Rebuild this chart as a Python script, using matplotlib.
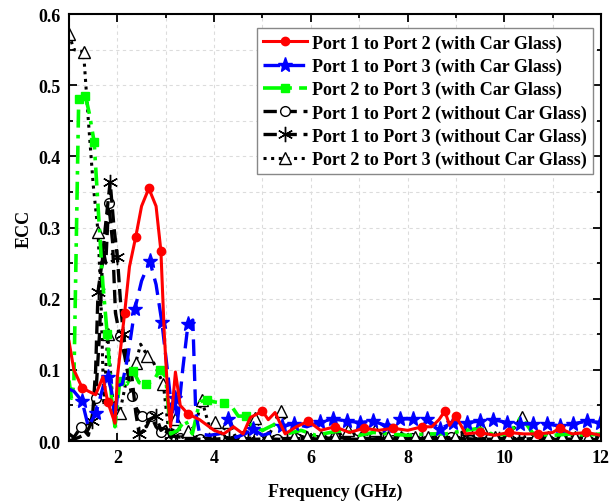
import numpy as np
import matplotlib
matplotlib.use("Agg")
import matplotlib.pyplot as plt
from matplotlib.lines import Line2D
from matplotlib.ticker import MultipleLocator

plt.rcParams['font.family'] = ['Liberation Serif', 'DejaVu Serif']
plt.rcParams['font.weight'] = 'bold'

# Port 1 to Port 2 (with Car Glass)
red_f = [1.0, 1.1, 1.27, 1.4, 1.55, 1.7, 1.8, 1.9, 1.95, 2.0, 2.15, 2.25, 2.38, 2.5, 2.65, 2.8, 2.9,
         2.97, 3.05, 3.1, 3.2, 3.3, 3.46, 3.7, 3.9, 4.0, 4.2, 4.4, 4.6, 4.75, 5.0, 5.12, 5.26, 5.47,
         5.7, 5.95, 6.2, 6.5, 6.8, 7.1, 7.4, 7.7, 8.0, 8.3, 8.5, 8.65, 8.77, 8.87, 9.0, 9.2, 9.5,
         9.8, 10.1, 10.4, 10.7, 11.0, 11.15, 11.4, 11.7, 12.0]
red_v = [0.14, 0.10, 0.075, 0.07, 0.065, 0.09, 0.055, 0.035, 0.025, 0.09, 0.18, 0.245, 0.287, 0.33,
         0.355, 0.33, 0.267, 0.15, 0.055, 0.02, 0.097, 0.05, 0.038, 0.03, 0.02, 0.015, 0.01, 0.02,
         0.01, 0.033, 0.042, 0.03, 0.04, 0.01, 0.02, 0.028, 0.015, 0.02, 0.012, 0.018, 0.015, 0.018,
         0.015, 0.02, 0.02, 0.03, 0.042, 0.022, 0.035, 0.01, 0.012, 0.008, 0.012, 0.01, 0.01, 0.012,
         0.018, 0.01, 0.012, 0.008]
red_mk = [2, 6, 10, 12, 14, 16, 22, 30, 35, 37, 39, 41, 43, 46, 48, 50, 52, 54, 56, 58]

# Port 1 to Port 3 (with Car Glass)
blue_f = [1.0, 1.1, 1.27, 1.4, 1.56, 1.7, 1.8, 1.88, 1.95, 2.02, 2.1, 2.22, 2.36, 2.5, 2.67, 2.8,
          2.92, 3.05, 3.13, 3.19, 3.24, 3.35, 3.46, 3.56, 3.62, 3.7, 3.9, 4.1, 4.29, 4.45, 4.64,
          4.8, 5.0, 5.2, 5.4, 5.65, 5.92, 6.19, 6.46, 6.75, 7.02, 7.29, 7.58, 7.84, 8.11, 8.4,
          8.67, 8.94, 9.23, 9.5, 9.77, 10.06, 10.33, 10.6, 10.88, 11.15, 11.42, 11.71, 11.98]
blue_v = [0.073, 0.07, 0.056, 0.02, 0.04, 0.075, 0.09, 0.07, 0.03, 0.078, 0.08, 0.12, 0.185, 0.225,
          0.253, 0.22, 0.167, 0.09, 0.04, 0.06, 0.025, 0.1, 0.164, 0.17, 0.04, 0.01, 0.008, 0.01,
          0.031, 0.005, 0.01, 0.017, 0.008, 0.012, 0.021, 0.024, 0.02, 0.027, 0.031, 0.028, 0.026,
          0.028, 0.021, 0.031, 0.031, 0.031, 0.017, 0.026, 0.026, 0.028, 0.03, 0.026, 0.024, 0.024,
          0.024, 0.021, 0.024, 0.028, 0.026]
blue_mk = [2, 4, 6, 12, 14, 16, 19, 22, 28, 31, 34, 35] + list(range(37, 59))

# Port 2 to Port 3 (with Car Glass)
green_f = [1.0, 1.05, 1.1, 1.2, 1.34, 1.42, 1.52, 1.6, 1.7, 1.79, 1.88, 1.95, 2.05, 2.2, 2.33, 2.45,
           2.6, 2.75, 2.88, 3.0, 3.1, 3.25, 3.4, 3.55, 3.7, 3.85, 4.0, 4.2, 4.35, 4.5, 4.65, 4.8,
           5.0, 5.3, 5.5, 5.8, 6.1, 6.4, 6.7, 7.0, 7.3, 7.6, 8.0, 8.4, 8.8, 9.2, 9.5, 9.8, 10.1,
           10.35, 10.6, 11.0, 11.4, 11.7, 12.0]
green_v = [0.085, 0.06, 0.08, 0.48, 0.485, 0.46, 0.42, 0.33, 0.22, 0.15, 0.06, 0.02, 0.085, 0.08,
           0.098, 0.082, 0.08, 0.085, 0.1, 0.09, 0.01, 0.015, 0.03, 0.01, 0.055, 0.058, 0.055, 0.053,
           0.05, 0.035, 0.035, 0.02, 0.015, 0.025, 0.01, 0.015, 0.008, 0.012, 0.015, 0.008, 0.012,
           0.01, 0.008, 0.01, 0.01, 0.015, 0.018, 0.008, 0.01, 0.034, 0.01, 0.008, 0.01, 0.008, 0.01]
green_mk = [3, 4, 6, 9, 12, 14, 16, 18, 25, 27, 30]

# Port 1 to Port 2 (without Car Glass)
circ_f = [1.0, 1.1, 1.25, 1.4, 1.55, 1.63, 1.7, 1.76, 1.82, 1.9, 1.96, 2.05, 2.15, 2.3, 2.4, 2.5,
          2.6, 2.7, 2.8, 2.9, 3.0, 3.1, 3.3, 3.7, 4.1, 4.5, 4.9, 5.3, 5.7, 6.1, 6.5, 6.9, 7.3, 7.7,
          8.1, 8.5, 8.9, 9.3, 9.7, 10.1, 10.5, 10.9, 11.3, 11.7, 12.0]
circ_v = [0.01, 0.005, 0.02, 0.008, 0.06, 0.15, 0.27, 0.25, 0.335, 0.28, 0.18, 0.148, 0.12, 0.063,
          0.045, 0.035, 0.02, 0.035, 0.02, 0.012, 0.02, 0.005, 0.004, 0.003, 0.006, 0.002, 0.005,
          0.003, 0.004, 0.002, 0.005, 0.003, 0.004, 0.002, 0.004, 0.003, 0.005, 0.002, 0.004, 0.003,
          0.004, 0.002, 0.005, 0.003, 0.004]
circ_mk = [2, 4, 8, 11, 13, 15, 17, 19] + list(range(22, 45))

# Port 1 to Port 3 (without Car Glass)
ast_f = [1.0, 1.2, 1.35, 1.48, 1.55, 1.6, 1.68, 1.75, 1.85, 1.93, 2.0, 2.06, 2.12, 2.2, 2.3, 2.38,
         2.45, 2.55, 2.65, 2.8, 2.9, 3.0, 3.1, 3.5, 3.9, 4.3, 4.7, 5.1, 5.5, 5.9, 6.3, 6.7, 7.1,
         7.5, 7.9, 8.3, 8.7, 9.1, 9.5, 9.9, 10.3, 10.7, 11.1, 11.5, 11.9]
ast_v = [0.0, 0.005, 0.01, 0.028, 0.1, 0.21, 0.25, 0.3, 0.364, 0.3, 0.258, 0.2, 0.15, 0.12, 0.09,
         0.04, 0.01, 0.015, 0.03, 0.035, 0.015, 0.02, 0.008, 0.003, 0.002, 0.004, 0.002, 0.003,
         0.002, 0.004, 0.002, 0.003, 0.002, 0.004, 0.002, 0.003, 0.002, 0.004, 0.002, 0.003, 0.002,
         0.004, 0.002, 0.003, 0.002]
ast_mk = [3, 5, 8, 10, 12, 16, 19, 22] + list(range(23, 45))

# Port 2 to Port 3 (without Car Glass)
tri_f = [1.0, 1.1, 1.3, 1.4, 1.5, 1.6, 1.66, 1.72, 1.8, 1.9, 2.05, 2.2, 2.38, 2.48, 2.62, 2.75,
         2.95, 3.05, 3.12, 3.19, 3.35, 3.46, 3.6, 3.75, 3.9, 4.02, 4.15, 4.29, 4.45, 4.57, 4.84,
         5.11, 5.38, 5.66, 5.93, 6.21, 6.49, 6.76, 7.04, 7.32, 7.59, 7.87, 8.15, 8.42, 8.7, 8.98,
         9.25, 9.53, 9.81, 10.08, 10.36, 10.64, 10.91, 11.19, 11.47, 11.74, 12.0]
tri_v = [0.572, 0.55, 0.547, 0.45, 0.36, 0.294, 0.2, 0.05, 0.15, 0.06, 0.04, 0.09, 0.11, 0.136,
         0.12, 0.11, 0.08, 0.02, 0.005, 0.031, 0.005, 0.014, 0.02, 0.057, 0.02, 0.027, 0.01, 0.027,
         0.005, 0.005, 0.032, 0.005, 0.042, 0.005, 0.006, 0.005, 0.005, 0.015, 0.005, 0.015, 0.005,
         0.005, 0.005, 0.005, 0.005, 0.005, 0.017, 0.018, 0.005, 0.005, 0.034, 0.005, 0.005, 0.005,
         0.005, 0.005, 0.005]
tri_mk = [0, 2, 5, 8, 10, 12, 14, 16, 19, 21, 23, 25, 27] + list(range(29, 57))

labels = ['Port 1 to Port 2 (with Car Glass)', 'Port 1 to Port 3 (with Car Glass)',
          'Port 2 to Port 3 (with Car Glass)', 'Port 1 to Port 2 (without Car Glass)',
          'Port 1 to Port 3 (without Car Glass)', 'Port 2 to Port 3 (without Car Glass)']

styles = [
    dict(color='#ff0000', ls='-', lw=2.2, marker='o', ms=6, mfc='#ff0000', mec='#ff0000'),
    dict(color='#0000ff', ls=(0, (5, 2.5)), lw=2.4, marker='*', ms=11, mfc='#0000ff', mec='#0000ff'),
    dict(color='#00ff00', ls=(0, (5, 2, 1, 2)), lw=2.6, marker='s', ms=6, mfc='#00ff00', mec='#00ff00'),
    dict(color='black', ls=(0, (4, 2)), lw=2.4, marker='o', ms=7, mfc='white', mec='black', mew=1),
    dict(color='black', ls=(0, (4, 2)), lw=2.4, marker=(6, 2, 0), ms=11, mec='black', mew=1),
    dict(color='black', ls=(0, (1, 1.5)), lw=2.2, marker='^', ms=8, mfc='white', mec='black', mew=1),
]

series = [(circ_f, circ_v, circ_mk, 3), (ast_f, ast_v, ast_mk, 4), (tri_f, tri_v, tri_mk, 5),
          (green_f, green_v, green_mk, 2), (blue_f, blue_v, blue_mk, 1), (red_f, red_v, red_mk, 0)]

fig = plt.figure(figsize=(6.13, 5.02), dpi=100)
ax = fig.add_axes([0.1126, 0.1195, 0.8678, 0.8505])

for f, v, mk, k in series:
    ax.plot(f, v, markevery=mk, **styles[k])

ax.set_xlim(1, 12)
ax.set_ylim(0, 0.6)
ax.xaxis.set_major_locator(MultipleLocator(2))
ax.xaxis.set_minor_locator(MultipleLocator(1))
ax.yaxis.set_major_locator(MultipleLocator(0.1))
ax.yaxis.set_minor_locator(MultipleLocator(0.05))
ax.yaxis.set_major_formatter(plt.FuncFormatter(lambda y, p: '%.1f' % y))
ax.grid(True, which='both', color='#dcdcdc', ls=(0, (3, 3)), lw=0.8)
ax.set_axisbelow(True)
ax.tick_params(which='both', direction='in', top=True, right=True, width=1.3, labelsize=13)
ax.tick_params(which='major', length=6, pad=6)
ax.tick_params(which='minor', length=3)
for s in ax.spines.values():
    s.set_linewidth(1.5)

ax.set_xlabel('Frequency (GHz)', fontsize=13, fontweight='bold', labelpad=12)
ax.set_ylabel('ECC', fontsize=13, fontweight='bold', labelpad=4)

handles = [Line2D([], [], **st) for st in styles]
leg = ax.legend(handles, labels, loc='upper right', bbox_to_anchor=(0.985, 0.967), fontsize=13,
                handlelength=2.4, numpoints=1, fancybox=False, framealpha=1, edgecolor='#888888',
                borderpad=0.35, labelspacing=0.33, handletextpad=0.3, borderaxespad=0)
leg.get_frame().set_linewidth(1.0)
for t in leg.get_texts():
    t.set_fontweight('bold')

fig.savefig('out.png', dpi=100)
